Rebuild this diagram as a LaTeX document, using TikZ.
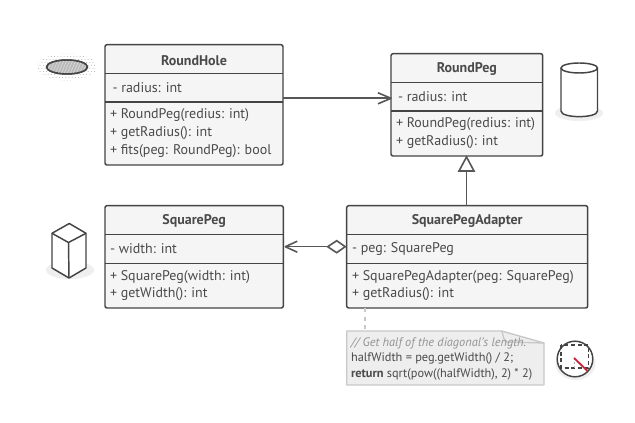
\documentclass[tikz,border=0pt]{standalone}
\usepackage{fontspec}
\setmainfont{PT Sans}
\usetikzlibrary{calc}
\definecolor{ink}{HTML}{444444}
\definecolor{txt}{HTML}{4A4A4A}
\definecolor{boxfill}{HTML}{F5F5F5}
\definecolor{notefill}{HTML}{EEEEEE}
\definecolor{noteline}{HTML}{C8C8C8}
\definecolor{groundtone}{HTML}{EFEFEF}
\definecolor{diagred}{HTML}{C8283A}
\tikzset{
  x=0.75pt,y=-0.75pt,
  every node/.style={inner sep=0pt,outer sep=0pt,text=txt,font=\fontsize{10.5pt}{12pt}\selectfont},
  classbox/.style={draw=ink,fill=boxfill,line width=1.1pt,rounded corners=1.5pt,anchor=north west},
  divider/.style={draw=ink,line width=1.1pt},
  title/.style={font=\fontsize{10.5pt}{12pt}\selectfont\bfseries},
  member/.style={anchor=west},
  conn/.style={draw=ink!90,line width=1.2pt},
  icon/.style={draw=ink,line width=1.1pt,line join=round},
  notetext/.style={anchor=west,font=\fontsize{9.25pt}{11pt}\selectfont},
}
\newcommand{\classbox}[8]{%
  % name, x, y, w, h, div1 offset, div2 offset, title
  \node[classbox,minimum width=#4*0.75pt,minimum height=#5*0.75pt] (#1) at (#2,#3) {};
  \draw[divider] ($(#1.north west)+(0,#6)$) -- ($(#1.north east)+(0,#6)$);
  \draw[divider] ($(#1.north west)+(0,#7)$) -- ($(#1.north east)+(0,#7)$);
  \node[title] (#1title) at ($(#1.north)+(0,#6/2+1)$) {#8};
}
\begin{document}
\begin{tikzpicture}
\useasboundingbox (0,0) rectangle (635,423);
\fill[white] (0,0) rectangle (635,423);

% classes
\classbox{hole}{105}{44.7}{178}{120.3}{29}{57.5}{RoundHole}
\node[member] (holeA) at (112.5,87.5) {- radius: int};
\node[member] (holeB) at (110,115.5) {+ RoundPeg(redius: int)};
\node[member] (holeC) at (110,133.5) {+ getRadius(): int};
\node[member] (holeD) at (110,151) {+ fits(peg: RoundPeg): bool};

\classbox{peg}{391}{53.7}{151.7}{102.3}{28.7}{57.3}{RoundPeg}
\node[member] (pegA) at (398,97) {- radius: int};
\node[member] (pegB) at (396,124.5) {+ RoundPeg(redius: int)};
\node[member] (pegC) at (396,142) {+ getRadius(): int};

\classbox{sq}{105}{205.7}{178.3}{102.3}{29}{57.6}{SquarePeg}
\node[member] (sqA) at (110,249) {- width: int};
\node[member] (sqB) at (110,277) {+ SquarePeg(width: int)};
\node[member] (sqC) at (110,294) {+ getWidth(): int};

\classbox{ad}{346.7}{205.7}{241}{102.3}{29}{57.6}{SquarePegAdapter}
\node[member] (adA) at (352,249) {- peg: SquarePeg};
\node[member] (adB) at (352,277) {+ SquarePegAdapter(peg: SquarePeg)};
\node[member] (adC) at (352,294) {+ getRadius(): int};

% RoundHole --> RoundPeg
\coordinate (assocY) at (0,98.3);
\draw[conn] (hole.east |- assocY) -- (peg.west |- assocY);
\draw[conn,line join=round] ($(peg.west |- assocY)+(-13,-5.5)$) -- (peg.west |- assocY) -- ($(peg.west |- assocY)+(-13,5.5)$);

% SquarePegAdapter -- RoundPeg (generalisation)
\coordinate (genX) at (466.5,0);
\coordinate (genTip) at (genX |- peg.south);
\draw[conn] (genX |- ad.north) -- ($(genTip)+(0,15)$);
\draw[conn,line join=miter,fill=white] ($(genTip)+(0,1)$) -- ($(genTip)+(7.5,15)$) -- ($(genTip)+(-7.5,15)$) -- cycle;

% SquarePegAdapter <>--> SquarePeg
\coordinate (aggY) at (0,246.7);
\coordinate (aggR) at (ad.west |- aggY);
\coordinate (aggL) at (sq.east |- aggY);
\draw[conn] ($(aggL)+(2,0)$) -- ($(aggR)+(-19,0)$);
\draw[conn,line join=round] ($(aggL)+(14,-5.5)$) -- ($(aggL)+(2,0)$) -- ($(aggL)+(14,5.5)$);
\draw[conn,fill=white,line join=miter] ($(aggR)+(-1.5,0)$) -- ($(aggR)+(-10,-6)$) -- ($(aggR)+(-19,0)$) -- ($(aggR)+(-10,6)$) -- cycle;

% note
\coordinate (noteTL) at (346.7,331);
\coordinate (noteFold) at (501.7,331);
\coordinate (noteFoldB) at (544,343);
\coordinate (noteBR) at (544,385);
\draw[noteline,fill=notefill,line width=1pt,line join=round]
  (noteTL) -- (noteFold) -- (noteFoldB) -- (noteBR) -- (noteTL |- noteBR) -- cycle;
\draw[noteline,line width=1pt,line join=round]
  (noteFold) .. controls (503.5,335) and (503.5,341) .. (506,342) -- (noteFoldB);
\coordinate (noteX) at (365,0);
\draw[noteline,line width=1.1pt,dash pattern=on 3pt off 3.5pt] (noteX |- ad.south) -- (noteX |- noteTL);
\node[notetext,text=gray!85] (noteA) at (351,343) {\itshape // Get half of the diagonal's length.};
\node[notetext] (noteB) at (351,358.5) {halfWidth = peg.getWidth() / 2;};
\node[notetext] (noteC) at (351,374) {\textbf{return} sqrt(pow((halfWidth), 2) * 2)};

% hole icon
\begin{scope}
\clip (67,67) ellipse (30 and 13.5);
\foreach \r in {0,...,9}{
  \pgfmathsetmacro{\off}{mod(\r,2)*1.6}
  \foreach \c in {0,...,19}{
    \fill[gray!60] (37+\off+\c*3.2,53.5+\r*3) circle (0.5);
  }
}
\end{scope}
\fill[white] (67,67) ellipse (22 and 8);
\draw[icon,fill=gray!55] (67,67) ellipse (20.5 and 7);
\begin{scope}
\clip (67,67) ellipse (20.5 and 7);
\foreach \i in {0,3,...,51}{\draw[white!70!gray,line width=0.5pt] (42+\i,76) -- (50+\i,58);}
\end{scope}
\draw[icon] (67,67) ellipse (20.5 and 7);

% cylinder icon
\fill[groundtone] (579,113) ellipse (24 and 8);
\draw[icon,fill=white] (561,68) -- (561,111) .. controls (561,118.5) and (597.5,118.5) .. (597.5,111) -- (597.5,68);
\draw[icon,fill=white] (579.25,68) ellipse (18.25 and 5);

% box icon
\fill[groundtone] (70,270) ellipse (24 and 9);
\draw[icon,fill=white] (69.3,223.5) -- (86,233.3) -- (86,268) -- (69,278) -- (52,268) -- (52,233.3) -- cycle;
\draw[icon] (52,233.3) -- (68.5,242.5) -- (86,233.3);
\draw[icon] (68.5,242.5) -- (69,278);

% diagonal icon
\fill[groundtone] (575.5,364) ellipse (20 and 16);
\draw[icon,fill=white] (575,359) circle (17.8);
\draw[ink,line width=1.1pt,dash pattern=on 3pt off 2pt] (561,345) rectangle (588.3,368);
\draw[gray!60,line width=0.7pt,dash pattern=on 1.5pt off 1.5pt] (574,358) -- (574,368);
\draw[diagred,line width=1.4pt] (574,358) -- (587.5,371);
\end{tikzpicture}
\end{document}
